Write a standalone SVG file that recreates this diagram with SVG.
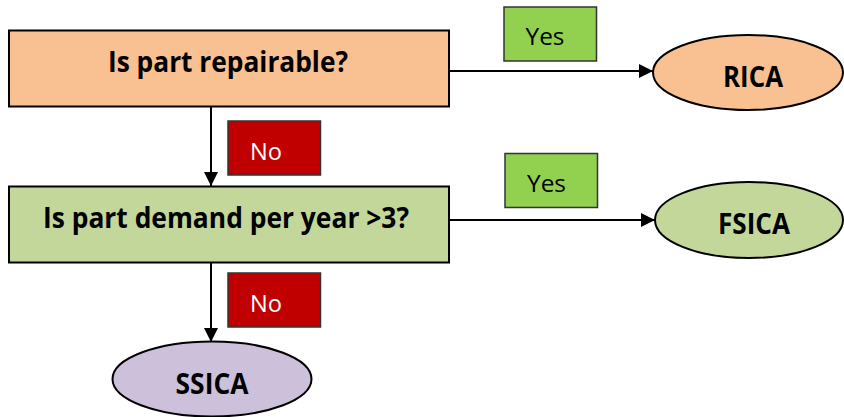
<svg xmlns="http://www.w3.org/2000/svg" width="844" height="417" viewBox="0 0 844 417">
<defs>
<marker id="ahv" markerWidth="14" markerHeight="15" refX="14" refY="7" orient="auto" markerUnits="userSpaceOnUse" viewBox="0 0 14 14">
<path d="M0,0 L14,7 L0,14 Z" fill="#000"/>
</marker>
</defs>
<style>
.box{stroke:#000;stroke-width:2}
.lbl{stroke:#333;stroke-width:1.5}
.big{font-family:"Open Sans","Liberation Sans",sans-serif;font-weight:bold;font-size:28px;fill:#000;text-anchor:middle}
.small{font-family:"Open Sans","Liberation Sans",sans-serif;font-size:24px;text-anchor:middle}
.conn{stroke:#000;stroke-width:2;fill:none}
</style>
<g id="connectors">
<line class="conn" x1="449" y1="71" x2="653" y2="71" marker-end="url(#ahv)"/>
<line class="conn" x1="449" y1="220" x2="655" y2="220" marker-end="url(#ahv)"/>
<line class="conn" x1="211" y1="107" x2="211" y2="186" marker-end="url(#ahv)"/>
<line class="conn" x1="211" y1="263" x2="211" y2="342" marker-end="url(#ahv)"/>
</g>
<g id="q1">
<rect class="box" x="9" y="30.5" width="440" height="76" fill="#F9C191"/>
<text class="big" x="228" y="72" textLength="240" lengthAdjust="spacingAndGlyphs">Is part repairable?</text>
</g>
<g id="q2">
<rect class="box" x="9" y="186.5" width="440" height="76" fill="#C4D79B"/>
<text class="big" x="226" y="227.5" textLength="366" lengthAdjust="spacingAndGlyphs">Is part demand per year &gt;3?</text>
</g>
<g id="rica">
<ellipse class="box" cx="748" cy="72.5" rx="95" ry="37.5" fill="#F9C191"/>
<text class="big" x="753" y="87" textLength="60" lengthAdjust="spacingAndGlyphs">RICA</text>
</g>
<g id="fsica">
<ellipse class="box" cx="749" cy="220" rx="94" ry="38" fill="#C4D79B"/>
<text class="big" x="754" y="233.5" textLength="72" lengthAdjust="spacingAndGlyphs">FSICA</text>
</g>
<g id="ssica">
<ellipse class="box" cx="212" cy="379" rx="99.5" ry="37.5" fill="#CCC0DA"/>
<text class="big" x="212" y="394" textLength="73" lengthAdjust="spacingAndGlyphs">SSICA</text>
</g>
<g id="yes1">
<rect class="lbl" x="504" y="7" width="92.5" height="54" fill="#92D050"/>
<text class="small" x="545" y="45" fill="#000" textLength="39" lengthAdjust="spacingAndGlyphs">Yes</text>
</g>
<g id="yes2">
<rect class="lbl" x="505" y="153.5" width="92.5" height="54" fill="#92D050"/>
<text class="small" x="546.5" y="191.5" fill="#000" textLength="39" lengthAdjust="spacingAndGlyphs">Yes</text>
</g>
<g id="no1">
<rect class="lbl" x="228" y="121" width="92.5" height="54" fill="#C00000"/>
<text class="small" x="266" y="160" fill="#fff" textLength="32" lengthAdjust="spacingAndGlyphs">No</text>
</g>
<g id="no2">
<rect class="lbl" x="228" y="273" width="92.5" height="54" fill="#C00000"/>
<text class="small" x="266" y="312" fill="#fff" textLength="32" lengthAdjust="spacingAndGlyphs">No</text>
</g>
</svg>
